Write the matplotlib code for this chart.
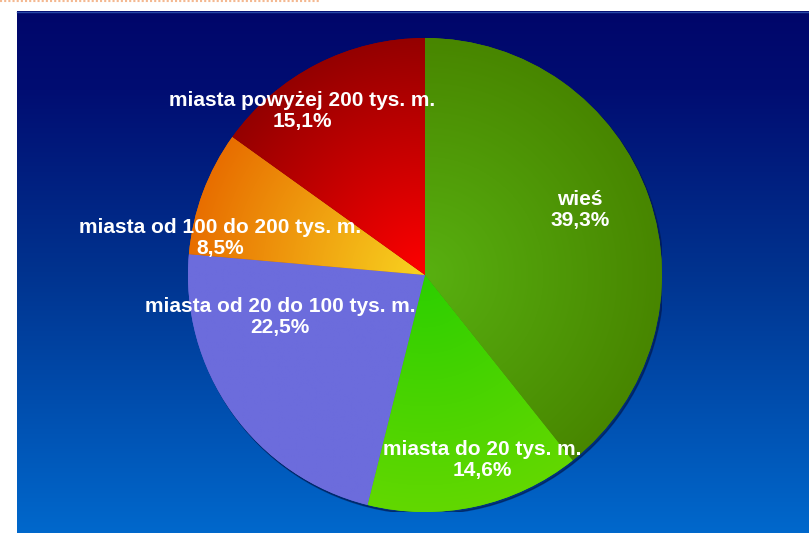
import numpy as np
import matplotlib.pyplot as plt
from matplotlib.colors import LinearSegmentedColormap, to_rgb
from matplotlib.patches import Circle

labels = ["wieś", "miasta do 20 tys. m.", "miasta od 20 do 100 tys. m.",
          "miasta od 100 do 200 tys. m.", "miasta powyżej 200 tys. m."]
shares = [39.3, 14.6, 22.5, 8.5, 15.1]

# colour of each slice at the pie centre and at its rim (radial gradient)
inner_colors = ["#58b010", "#2ccf00", "#6c6cdc", "#f8d420", "#ff0000"]
outer_colors = ["#488600", "#62d800", "#6c6cdc", "#e86e00", "#940000"]

# label centres, in units of the pie radius
label_xy = [(0.654, 0.274), (0.24, -0.78), (-0.612, -0.177),
            (-0.865, 0.156), (-0.519, 0.692)]

W, H = 809, 533
fig = plt.figure(figsize=(W / 100, H / 100), dpi=100)
fig.patch.set_facecolor("white")

# background panel
bg = fig.add_axes([0, 0, 1, 1])
bg_cmap = LinearSegmentedColormap.from_list(
    "bg", [(0, "#00066a"), (0.15, "#000d72"), (0.5, "#00338f"), (1, "#0068cc")])
bg.imshow(np.linspace(0, 1, 256).reshape(-1, 1), cmap=bg_cmap,
          extent=(17, W, H, 11), aspect="auto")
bg.plot([17, W], [11.5, 11.5], color="#2848a8", lw=1)
bg.plot([0, 320], [0.6, 0.6], color="#f4b890", lw=1.5, ls=(0, (1, 1)))
bg.set_xlim(0, W)
bg.set_ylim(H, 0)
bg.axis("off")

# pie
cx, cy, r = 425, 275, 237
ax = fig.add_axes([(cx - r) / W, (H - cy - r) / H, 2 * r / W, 2 * r / H])
ax.add_patch(Circle((0.007, -0.009), 1.0, color="#001850", alpha=0.6, zorder=0))
wedges, _ = ax.pie(shares, startangle=90, counterclock=False, radius=1,
                   colors=outer_colors, wedgeprops=dict(linewidth=0))

yy, xx = np.mgrid[-1:1:500j, -1:1:500j]
rr = np.hypot(xx, yy).clip(0, 1)[..., None]
for w, ci, co in zip(wedges, inner_colors, outer_colors):
    img = (1 - rr) * np.array(to_rgb(ci)) + rr * np.array(to_rgb(co))
    im = ax.imshow(img, extent=(-1, 1, -1, 1), origin="lower",
                   interpolation="bilinear", zorder=2)
    im.set_clip_path(w)

for (lx, ly), lab, val in zip(label_xy, labels, shares):
    pct = f"{val:.1f}".replace(".", ",")
    ax.text(lx, ly, f"{lab}\n{pct}%", ha="center", va="center",
            color="white", fontsize=15, fontweight="bold",
            family="Liberation Sans", linespacing=1.15, zorder=5)

ax.set_xlim(-1, 1)
ax.set_ylim(-1, 1)
ax.axis("off")

fig.savefig("out.png", dpi=100)
